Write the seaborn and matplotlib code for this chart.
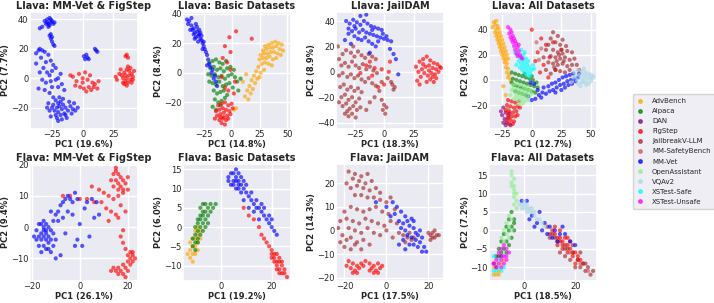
import numpy as np
import pandas as pd
import matplotlib.pyplot as plt
import seaborn as sns
from matplotlib.lines import Line2D

# cores de cada dataset (ordem da legenda)
DATASETS = ['AdvBench', 'Alpaca', 'DAN', 'FigStep', 'JailbreakV-LLM', 'MM-SafetyBench',
            'MM-Vet', 'OpenAssistant', 'VQAv2', 'XSTest-Safe', 'XSTest-Unsafe']
COLORS = ['orange', 'green', 'purple', 'red', 'brown', 'indianred',
          'blue', 'lightgreen', 'lightblue', 'cyan', 'magenta']

# ---------------- Llava: MM-Vet & FigStep ----------------
L1_MMVET = [(-31, 39), (-29, 40), (-27, 41), (-26, 38), (-28, 37), (-30, 37), (-25, 39), (-27, 36), (-33, 35),
            (-24, 37), (-26, 40), (-29, 38), (-35, 34), (-28, 35), (-23, 38), (-27, 29), (-26, 27), (-25, 25),
            (-24, 23), (-23, 22), (-26, 30), (-25, 28), (-38, 17), (-35, 20), (-33, 19), (-31, 18), (-28, 16),
            (-34, 14), (-30, 11), (-26, 12), (-24, 9), (-32, 7), (-35, 4), (-29, 4), (-27, 2), (-25, 5), (-22, 7),
            (-33, -1), (-30, -3), (-26, -2), (-22, -1), (-20, 0), (-36, -7), (-31, -8), (-25, -6), (-20, -6),
            (-17, -4), (-27, -10), (-15, -8), (-38, 10), (-36, 19), (-18, 3), (-22, -15), (-20, -17), (-18, -16),
            (-24, -18), (-21, -20), (-19, -19), (-17, -21), (-23, -22), (-25, -20), (-27, -22), (-20, -23),
            (-16, -18), (-14, -20), (-12, -22), (-10, -19), (-8, -21), (-15, -24), (-18, -25), (-22, -25),
            (-26, -26), (-13, -27), (-9, -24), (-6, -22), (-4, -20), (-20, -29), (-17, -28), (-24, -13),
            (-19, -13), (-28, -17), (-11, -16), (-7, -17), (-16, -14), (-21, -27), (-14, -25), (-29, -20),
            (1, 15), (2, 13), (4, 14), (5, 13), (3, 16), (11, 19), (12, 18), (10, 20)]
L1_FIGSTEP = [(32, 2), (34, 4), (36, 6), (38, 5), (40, 3), (41, 1), (39, -1), (37, -3), (35, -2), (33, 0), (30, 3),
              (28, -1), (36, 0), (38, 2), (34, -4), (40, -3), (42, 5), (31, 6), (37, 8), (35, 2), (39, 7), (33, -3),
              (36, -5), (41, -1), (27, 1), (35, 15), (36, 16), (37, 14), (-8, 1), (-5, -2), (-3, 3), (0, 0), (2, 4),
              (4, -1), (6, 2), (8, -3), (-2, -6), (1, -7), (5, -6), (10, -4), (12, -7), (-6, -5), (3, -9), (7, -8),
              (0, -3), (-10, 2), (9, -6), (13, -2)]

# ---------------- Llava: Basic Datasets ----------------
L2_ADVBENCH = [(30, 18), (33, 19), (36, 20), (39, 21), (42, 20), (45, 19), (28, 15), (31, 16), (34, 17), (37, 17),
               (40, 18), (43, 16), (46, 15), (26, 12), (29, 13), (32, 13), (35, 14), (38, 14), (41, 13), (44, 12),
               (25, 9), (28, 10), (31, 10), (34, 11), (37, 9), (40, 10), (27, 6), (30, 7), (33, 6), (36, 5), (24, 4),
               (22, 1), (26, 0), (20, -2), (23, -4), (18, -5), (21, -7), (16, -9), (19, -11), (14, -12), (17, -14),
               (12, -16), (15, -18), (25, -3), (29, 2), (2, -25), (4, -24), (10, -6), (13, -1)]
L2_ALPACA = [(-20, 7), (-17, 8), (-14, 9), (-11, 7), (-8, 6), (-5, 8), (-19, 3), (-16, 4), (-13, 2), (-10, 3), (-7, 1),
             (-4, 3), (-1, 4), (2, 2), (-18, -2), (-15, -1), (-12, -3), (-9, -2), (-6, -4), (-3, -2), (0, -1), (3, -3),
             (-20, -6), (-17, -7), (-14, -8), (-11, -6), (-8, -9), (-5, -8), (-2, -7), (1, -10), (5, -6), (8, -4),
             (-16, -12), (-13, -14), (-10, -13), (-7, -12), (-4, -15), (-15, -18), (-12, -20), (-9, -19),
             (-17, -23), (-14, -25), (-6, -17), (-21, -1), (-10, -22), (6, -12)]
L2_FIGSTEP = [(-12, -22), (-9, -21), (-6, -20), (-3, -22), (0, -21), (-14, -26), (-11, -25), (-8, -24), (-5, -25),
              (-2, -26), (1, -24), (-13, -29), (-10, -28), (-7, -27), (-4, -29), (-1, -28), (-11, -32), (-8, -31),
              (-5, -32), (-9, -34), (-6, -35), (-15, -31), (-3, -31), (-7, -30), (-10, -30), (4, 28), (18, 23),
              (-2, 24), (-6, 18), (-1, 14), (-8, 10), (-4, 7), (-1, 2), (-9, -3), (-6, -10), (2, -14), (-3, -12),
              (3, -6)]
L2_MMVET = [(-40, 36), (-38, 35), (-39, 33), (-36, 32), (-34, 30), (-37, 29), (-33, 27), (-31, 28), (-30, 25),
            (-32, 24), (-29, 26), (-28, 23), (-27, 22), (-30, 21), (-26, 20), (-25, 18), (-34, 26), (-35, 29),
            (-31, 31), (-29, 29), (-33, 23), (-28, 27), (-27, 25), (-24, 16), (-23, 14), (-25, 21), (-22, 12),
            (-21, 9), (-20, 6), (-19, 4), (-22, 5), (-17, 2), (-15, -2), (-14, -6), (-13, -9), (-16, -4), (-18, 0),
            (-36, 37), (-32, 33), (-26, 16)]

# ---------------- Llava: JailDAM ----------------
L3_FIGSTEP = [(30, 8), (33, 10), (36, 12), (39, 9), (42, 7), (45, 6), (47, 4), (44, 2), (41, 3), (38, 5), (35, 4),
              (32, 2), (29, 0), (34, -1), (37, -3), (40, -1), (43, -2), (46, 0), (39, -6), (36, -8), (31, -4),
              (28, -7), (41, -4), (44, -5), (48, 3), (27, 4), (33, 6), (38, 1), (42, -8), (30, -10), (-15, 5),
              (-8, 3), (-2, 2), (4, 0), (-10, -3), (-20, -1), (0, -10), (-5, -12), (5, 8), (-12, 8)]
L3_JAILBREAK = [(-38, 10), (-35, 14), (-32, 17), (-28, 15), (-25, 12), (-22, 16), (-19, 13), (-16, 11), (-13, 14),
                (-10, 12), (-7, 10), (-36, 5), (-33, 7), (-30, 4), (-27, 8), (-24, 5), (-21, 3), (-18, 6), (-15, 2),
                (-12, 4), (-9, 1), (-6, -1), (-38, -3), (-35, -1), (-31, -4), (-28, -2), (-25, -5), (-22, -3),
                (-19, -6), (-16, -8), (-13, -5), (-10, -9), (-7, -11), (-37, -12), (-34, -10), (-31, -14),
                (-28, -12), (-25, -15), (-22, -13), (-19, -16), (-36, -20), (-33, -18), (-30, -22), (-27, -20),
                (-24, -24), (-21, -21), (-35, -27), (-32, -25), (-29, -29), (-26, -27), (-23, -30), (-33, -33),
                (-30, -35), (-27, -33), (-24, -36), (-20, -28), (-38, -24), (-31, -31), (-2, -22), (0, -26),
                (-1, -30), (1, -33), (2, -28), (7, -10), (9, -12), (8, -14), (6, -8), (-4, -15), (-8, -20),
                (-12, -24), (-15, -30), (3, -5), (-2, -8), (-39, 20), (-26, 20)]
L3_MMVET = [(-32, 40), (-29, 38), (-26, 41), (-23, 39), (-20, 37), (-17, 40), (-14, 38), (-11, 36), (-8, 35),
            (-5, 34), (-2, 33), (-30, 34), (-27, 32), (-24, 34), (-21, 31), (-18, 33), (-15, 31), (-12, 30),
            (-9, 29), (-6, 28), (-3, 27), (0, 26), (3, 25), (6, 24), (-25, 28), (-22, 26), (-19, 25), (-16, 27),
            (-13, 24), (-10, 22), (-7, 20), (-20, 44), (-15, 45), (-30, 30), (-33, 25), (-28, 22), (-1, 30),
            (2, 28), (5, 18), (8, 14), (-12, 15), (10, 10), (12, -2), (-25, 36), (-10, 33), (-5, 24)]

# ---------------- Llava: All Datasets ----------------
L4_ADVBENCH = [(-32, 46), (-30, 47), (-31, 44), (-29, 43), (-33, 42), (-30, 40), (-28, 41), (-31, 38), (-29, 37),
               (-27, 38), (-30, 35), (-28, 34), (-26, 35), (-29, 32), (-27, 31), (-25, 32), (-28, 29), (-26, 28),
               (-24, 29), (-27, 26), (-25, 25), (-23, 26), (-26, 23), (-24, 22), (-22, 23), (-25, 20), (-23, 19),
               (-21, 20), (-24, 17), (-22, 16), (-20, 17), (-23, 14), (-21, 13), (-22, 10), (-20, 9), (-21, 6),
               (-19, 4), (-20, 2), (-18, 0), (-24, -5), (-22, -12), (-20, -25), (-19, -30)]
L4_ALPACA = [(-17, 6), (-14, 5), (-11, 4), (-8, 3), (-5, 2), (-2, 1), (1, 0), (4, -2), (-16, 1), (-13, 0), (-10, -1),
             (-7, -2), (-4, -3), (-1, -4), (2, -5), (-15, -4), (-12, -5), (-9, -6), (-6, -7), (-3, -8), (0, -9),
             (3, -10), (-14, -9), (-11, -10), (-8, -11), (-5, -12), (-17, -2), (-6, 5), (0, 3), (5, -6)]
L4_DAN = [(-24, -22), (-22, -26), (-25, -28), (-23, -31), (-21, -34), (-24, -34), (-20, -30), (-26, -25),
          (-22, -36), (-18, -36), (-19, -27)]
L4_FIGSTEP = [(-20, -16), (-17, -17), (-14, -18), (-11, -17), (-21, -20), (-18, -21), (-15, -22), (-12, -21),
              (-22, -24), (-19, -25), (-16, -26), (-13, -25), (-20, -28), (-17, -29), (-14, -29), (-21, -32),
              (-18, -32), (-15, -33), (-19, -35), (-16, -35), (-10, -22), (-12, -28), (0, 40), (8, 33), (12, 28),
              (5, 22), (15, 18), (10, 12), (20, 8), (14, 2), (25, 24), (18, 30), (7, 6), (3, 15)]
L4_JAILBREAK = [(18, 38), (22, 35), (16, 33), (26, 32), (20, 30), (24, 28), (14, 28), (29, 27), (12, 24), (18, 24),
                (22, 22), (26, 21), (30, 23), (34, 22), (16, 19), (20, 18), (24, 17), (28, 18), (32, 16), (36, 17),
                (14, 14), (18, 13), (22, 12), (26, 13), (30, 11), (34, 12), (20, 8), (24, 7), (28, 6), (32, 8),
                (38, 12), (40, 8), (10, 18), (12, 8), (16, 5), (25, 24), (21, 15), (27, 15), (23, 20), (19, 10)]
L4_MMSAFETY = [(8, 25), (6, 16), (-20, -22), (-14, -24), (4, 30)]
L4_MMVET = [(3, -15), (6, -12), (9, -10), (12, -11), (15, -9), (18, -8), (21, -6), (24, -4), (27, -3), (30, -1),
            (33, 0), (36, 1), (39, 2), (14, -5), (17, -3), (20, -2), (23, 0), (26, 2), (29, 3), (32, 4), (35, 5),
            (10, -6), (8, -14), (20, -10), (25, -8), (28, -6), (31, -4), (34, -3), (37, -1), (40, 5), (-3, -13),
            (0, -16), (5, -8), (-1, -2), (2, -3)]
L4_OPENASSIST = [(-16, -4), (-13, -3), (-10, -4), (-7, -5), (-4, -6), (-15, -7), (-12, -7), (-9, -8), (-6, -8),
                 (-3, -9), (-14, -10), (-11, -10), (-8, -11), (-5, -11), (-2, -12), (-13, -13), (-10, -13),
                 (-7, -14), (-4, -14), (-12, -16), (-9, -16), (-6, -17), (-3, -16), (-11, -19), (-8, -19),
                 (-17, -8), (-18, -12), (-15, -15), (-1, -8), (0, -11)]
L4_VQAV2 = [(36, 6), (39, 8), (42, 7), (45, 6), (48, 5), (50, 4), (37, 3), (40, 4), (43, 4), (46, 3), (49, 2),
            (51, 1), (38, 0), (41, 1), (44, 1), (47, 0), (50, -1), (39, -3), (42, -2), (45, -2), (48, -3), (35, 2),
            (44, 9), (41, -5), (46, -4), (33, -2), (52, 3), (43, -1)]
L4_XSAFE = [(-14, 22), (-12, 20), (-10, 18), (-8, 16), (-6, 14), (-4, 12), (-2, 10), (0, 8), (-11, 15), (-9, 13),
            (-7, 11), (-5, 9), (-3, 7), (-1, 5), (-13, 12), (-10, 10), (-8, 8), (-6, 6), (-4, 4), (-2, 3), (-7, 20),
            (-5, 17), (-3, 15), (1, 12), (-9, 24), (-6, 22), (2, 9)]
L4_XUNSAFE = [(-20, 42), (-18, 40), (-19, 37), (-17, 38), (-16, 35), (-18, 34), (-15, 33), (-14, 31), (-16, 30),
              (-13, 29), (-15, 27), (-12, 26), (-14, 24), (-11, 23), (-13, 21), (-10, 20), (-9, 18), (-12, 19),
              (-8, 17), (-17, 32), (-11, 28)]

# ---------------- Flava: MM-Vet & FigStep ----------------
F1_MMVET = [(-18, -1), (-17, 1), (-16, -2), (-15, 0), (-14, -1), (-13, -3), (-17, -3), (-16, -4), (-15, -3),
            (-14, -4), (-13, -5), (-12, -4), (-16, 1), (-15, 2), (-14, 1), (-13, 0), (-12, -1), (-11, -2),
            (-18, -4), (-17, -6), (-15, -6), (-13, -7), (-11, -6), (-10, -4), (-19, -3), (-16, -8), (-12, -8),
            (-14, -7), (-15, -1), (-14, -2), (-11, 2), (-10, 4), (-9, 5), (-8, 7), (-7, 8), (-6, 9), (-5, 10),
            (-4, 9), (-3, 8), (-2, 11), (-1, 9), (-12, 5), (-9, 2), (-7, 3), (-5, 5), (-3, 4), (0, 1), (-1, -4),
            (1, -6), (-8, -9), (-6, -2), (3, 8), (5, 9), (7, 8), (8, 4), (2, 6), (6, 3), (-2, -6), (-10, -10),
            (4, -3)]
F1_FIGSTEP = [(14, 17), (15, 18), (16, 17), (17, 16), (18, 15), (15, 15), (16, 14), (17, 13), (19, 14), (14, 13),
              (16, 12), (18, 12), (13, 15), (20, 16), (15, 19), (5, 13), (8, 12), (10, 11), (12, 10), (14, 9),
              (16, 10), (18, 11), (20, 12), (-7, 10), (-4, 10), (0, 9), (3, 9), (6, 8), (9, 8), (11, 6), (13, 5),
              (15, 4), (17, 7), (19, 5), (12, 2), (16, 3), (18, -1), (17, -3), (18, -5), (19, -7), (20, -9),
              (21, -8), (22, -9), (21, -10), (22, -11), (23, -10), (20, -11), (21, -12), (14, -13), (15, -14),
              (16, -13), (17, -14), (18, -15), (19, -13), (20, -14), (13, -14), (16, -15), (18, -12), (22, -8),
              (19, -16)]

# ---------------- Flava: Basic Datasets ----------------
F2_ADVBENCH = [(-12, -8), (-12, -6), (-11, -7), (-11, -5), (-10, -7), (-10, -5), (-11, -3), (-10, -3), (-9, -4),
               (-9, -2), (-10, -1), (-9, 0), (-8, -1), (-12, -4), (-11, -9), (-9, -6), (-8, -3), (-13, -7)]
F2_ALPACA = [(-11, -5), (-10, -4), (-10, -2), (-9, -3), (-9, -1), (-10, 0), (-9, 1), (-8, 0), (-8, 2), (-7, 1),
             (-8, 3), (-7, 3), (-6, 2), (-7, 4), (-6, 4), (-5, 5), (-6, 6), (-4, 6), (-5, 3), (-6, 0), (-7, -1),
             (-8, -2), (-9, -4), (-11, -3), (-10, -6), (-4, 4), (-3, 5), (-8, 5), (-5, 1), (-7, 6), (-2, 6), (-9, 2)]
F2_FIGSTEP = [(9, 5), (11, 3), (13, 2), (15, 0), (16, -2), (17, -3), (18, -4), (19, -5), (20, -6), (21, -7),
              (22, -7), (21, -8), (22, -9), (23, -9), (22, -10), (23, -11), (24, -10), (24, -12), (25, -12),
              (20, -8), (21, -9), (23, -8), (25, -11), (22, -11), (24, -9), (20, -7), (26, -13), (23, -12)]
F2_MMVET = [(3, 13), (4, 14), (5, 12), (6, 13), (7, 12), (8, 11), (5, 11), (6, 10), (7, 14), (8, 13), (9, 12),
            (4, 11), (6, 15), (5, 14), (7, 10), (9, 10), (10, 11), (3, 12), (8, 9), (6, 12), (7, 11), (10, 9),
            (11, 8), (12, 7), (13, 6), (14, 5), (15, 5), (16, 4), (17, 3), (18, 2), (19, 1), (20, 0), (21, -1),
            (22, -2), (12, 9), (14, 7), (16, 6), (17, 5), (19, 3), (20, 2), (13, 4), (11, 5), (9, 7), (15, 2)]

# ---------------- Flava: JailDAM ----------------
F3_FIGSTEP = [(-18, -13), (-16, -14), (-14, -15), (-12, -14), (-17, -16), (-15, -17), (-13, -16), (-11, -15),
              (-16, -18), (-14, -18), (-10, -13), (-19, -15), (-8, -14), (-6, -15), (-4, -14), (-7, -16),
              (-5, -17), (-3, -16), (-6, -18), (-4, -18), (-2, -15), (-8, -17)]
F3_JAILBREAK = [(-18, 25), (-15, 24), (-12, 23), (-9, 24), (-16, 22), (-13, 21), (-10, 20), (-7, 21), (-14, 19),
                (-11, 18), (-8, 17), (-5, 18), (-3, 16), (-17, 18), (-12, 15), (-9, 14), (-6, 14), (-3, 13),
                (0, 12), (2, 14), (-15, 15), (-19, 20), (-20, 8), (-17, 10), (-14, 9), (-11, 8), (-8, 9), (-5, 10),
                (-2, 8), (1, 7), (4, 9), (-22, 4), (-19, 5), (-16, 4), (-13, 3), (-10, 5), (-7, 4), (-4, 3),
                (-1, 2), (2, 4), (5, 3), (-23, 1), (-18, 1), (-15, 0), (-12, -1), (-9, 1), (-6, -1), (-3, -2),
                (0, 0), (-21, -2), (-19, -4), (-17, -3), (-14, -5), (-11, -4), (-8, -6), (-20, -7), (-17, -8),
                (-15, -6), (-12, -8), (-22, -5), (3, -3), (6, -1), (8, -2), (10, -3), (12, -4), (9, -5), (11, -1),
                (13, -3), (20, -1), (21, -2), (22, -1), (23, -3), (24, -2), (22, -3), (21, -4), (23, 0), (25, -2)]
F3_MMVET = [(3, 12), (5, 10), (4, 7), (7, 8), (9, 6), (6, 4), (8, 3), (10, 4), (12, 5), (7, 1), (9, 0), (11, 2),
            (13, 1), (14, -1), (10, -2), (12, -3), (14, -4), (15, -2), (16, -5), (13, -6), (15, -7), (11, -6),
            (17, -3), (18, -7), (19, -9), (8, -4), (6, -6), (9, -8), (2, 6), (0, 10), (-5, 12), (16, 0), (13, 4),
            (17, -9)]

# ---------------- Flava: All Datasets ----------------
F4_ADVBENCH = [(-11, -12), (-10, -11), (-12, -10), (-9, -9), (-11, -9), (-10, -12), (-12, -12), (-8, -8)]
F4_ALPACA = [(-5, 5), (-6, 3), (-4, 3), (-7, 1), (-5, 1), (-8, -1), (-6, 0), (-4, 0), (-9, -3), (-7, -3), (-5, -2),
             (-10, -5), (-8, -5), (-6, -4), (-9, -6), (-7, -6), (-11, -7), (-4, 2)]
F4_DAN = [(-12, -9), (-11, -10), (-9, -7), (-10, -7)]
F4_FIGSTEP = [(11, 0), (12, -1), (13, -2), (14, -2), (15, -3), (16, -4), (17, -4), (18, -5), (19, -6), (20, -6),
              (21, -7), (22, -8), (12, 1), (14, 0), (16, -2), (18, -3), (13, -4), (15, -5), (17, -6), (19, -7),
              (21, -8), (20, -9), (10, -1), (23, -9), (14, -3), (17, -2)]
F4_JAILBREAK = [(9, 1), (11, -1), (13, -3), (15, -4), (17, -5), (19, -6), (21, -8), (23, -9), (25, -10), (27, -11),
                (14, -6), (16, -7), (18, -8), (20, -10), (22, -10), (24, -9), (26, -12), (10, -2), (12, -2),
                (19, -4), (22, -6), (24, -11), (16, -5)]
F4_MMSAFETY = [(22, -9), (25, -11), (18, -6)]
F4_MMVET = [(-1, 8), (1, 8), (3, 4), (5, 2), (6, 5), (8, 2), (10, 1), (12, 0), (14, -1), (16, -1), (9, -1), (11, -2),
            (13, -3), (18, -3), (20, -4), (7, 0), (4, 1), (2, 3), (15, 1)]
F4_OPENASSIST = [(-5, 16), (-5, 15), (-4, 14), (-5, 13), (-4, 12), (-4, 11), (-4, 10), (-4, 9), (-3, 8), (-4, 7),
                 (-3, 6), (-5, 12), (-3, 10), (-6, 4), (-5, 3), (-7, 2), (-6, 1), (-5, 0), (-8, 0), (-7, -1),
                 (-6, -2), (-9, -2), (-8, -3)]
F4_VQAV2 = [(-1, 7), (0, 7), (1, 6), (2, 6), (0, 6), (1, 7), (-1, 6), (2, 5), (3, 5), (4, 4), (5, 3), (3, 6), (1, 5),
            (6, 3), (7, 2), (8, 1), (4, 5), (-2, 7), (0, 8)]
F4_XSAFE = [(-10, -10), (-11, -11), (-9, -11), (-12, -11), (-8, -10), (-10, -8), (-12, -7)]
F4_XUNSAFE = [(-8, -4), (-9, -5), (-7, -5), (-10, -6), (-8, -7), (-6, -6), (-11, -8), (-9, -8), (-7, -8),
              (-10, -9), (-8, -9), (-11, -10), (-9, -10), (-12, -9), (-7, -7)]


def montar(series):
    # junta as séries (nome, pontos) num DataFrame
    linhas = []
    for nome, pontos in series:
        for x, y in pontos:
            linhas.append({'x': x, 'y': y, 'dataset': nome})
    return pd.DataFrame(linhas)


paineis = [
    ('Llava: MM-Vet & FigStep', 'PC1 (19.6%)', 'PC2 (7.7%)',
     [('FigStep', L1_FIGSTEP), ('MM-Vet', L1_MMVET)],
     (-43, 45), (-34.5, 45), [-25, 0, 25], [-20, 0, 20, 40]),
    ('Llava: Basic Datasets', 'PC1 (14.8%)', 'PC2 (8.4%)',
     [('AdvBench', L2_ADVBENCH), ('Alpaca', L2_ALPACA), ('FigStep', L2_FIGSTEP), ('MM-Vet', L2_MMVET)],
     (-43.5, 53), (-38, 41), [-25, 0, 25, 50], [-20, 0, 20, 40]),
    ('Llava: JailDAM', 'PC1 (18.3%)', 'PC2 (8.9%)',
     [('FigStep', L3_FIGSTEP), ('JailbreakV-LLM', L3_JAILBREAK), ('MM-Vet', L3_MMVET)],
     (-40.5, 50.5), (-45, 47), [-25, 0, 25], [-40, -20, 0, 20, 40]),
    ('Llava: All Datasets', 'PC1 (12.7%)', 'PC2 (9.3%)',
     [('AdvBench', L4_ADVBENCH), ('Alpaca', L4_ALPACA), ('DAN', L4_DAN), ('FigStep', L4_FIGSTEP),
      ('JailbreakV-LLM', L4_JAILBREAK), ('MM-SafetyBench', L4_MMSAFETY), ('MM-Vet', L4_MMVET),
      ('OpenAssistant', L4_OPENASSIST), ('VQAv2', L4_VQAV2), ('XSTest-Safe', L4_XSAFE),
      ('XSTest-Unsafe', L4_XUNSAFE)],
     (-36, 55), (-39, 54), [-25, 0, 25, 50], [-20, 0, 20, 40]),
    ('Flava: MM-Vet & FigStep', 'PC1 (26.1%)', 'PC2 (9.4%)',
     [('FigStep', F1_FIGSTEP), ('MM-Vet', F1_MMVET)],
     (-20.7, 24.1), (-17.2, 20.2), [-20, 0, 20], [-10, 0, 10, 20]),
    ('Flava: Basic Datasets', 'PC1 (19.2%)', 'PC2 (6.0%)',
     [('AdvBench', F2_ADVBENCH), ('Alpaca', F2_ALPACA), ('FigStep', F2_FIGSTEP), ('MM-Vet', F2_MMVET)],
     (-14.8, 27.5), (-14, 16.4), [0, 20], [-10, -5, 0, 5, 10, 15]),
    ('Flava: JailDAM', 'PC1 (17.5%)', 'PC2 (14.3%)',
     [('FigStep', F3_FIGSTEP), ('JailbreakV-LLM', F3_JAILBREAK), ('MM-Vet', F3_MMVET)],
     (-24, 27.4), (-21.4, 28.2), [-20, 0, 20], [-20, -10, 0, 10, 20]),
    ('Flava: All Datasets', 'PC1 (18.5%)', 'PC2 (7.2%)',
     [('AdvBench', F4_ADVBENCH), ('Alpaca', F4_ALPACA), ('DAN', F4_DAN), ('FigStep', F4_FIGSTEP),
      ('JailbreakV-LLM', F4_JAILBREAK), ('MM-SafetyBench', F4_MMSAFETY), ('MM-Vet', F4_MMVET),
      ('OpenAssistant', F4_OPENASSIST), ('VQAv2', F4_VQAV2), ('XSTest-Safe', F4_XSAFE),
      ('XSTest-Unsafe', F4_XUNSAFE)],
     (-13.8, 28.5), (-13.7, 18), [0, 20], [-10, -5, 0, 5, 10, 15]),
]

sns.set_theme(style='darkgrid')  # fundo cinza com grade branca
paleta = dict(zip(DATASETS, COLORS))

fig, axes = plt.subplots(2, 4, figsize=(7.14, 3.03), dpi=100)
fig.subplots_adjust(left=0.042, right=0.836, top=0.96, bottom=0.073, wspace=0.42, hspace=0.3)

for ax, (titulo, xl, yl, series, xlim, ylim, xt, yt) in zip(axes.flat, paineis):
    df = montar(series)
    sns.scatterplot(data=df, x='x', y='y', hue='dataset', palette=paleta, s=9, alpha=0.65,
                    linewidth=0, legend=False, ax=ax)
    ax.set_title(titulo, fontsize=7, fontweight='bold', pad=2)
    ax.set_xlabel(xl, fontsize=6, fontweight='bold', labelpad=0.5)
    ax.set_ylabel(yl, fontsize=6, fontweight='bold', labelpad=0.5)
    ax.set_xlim(xlim)
    ax.set_ylim(ylim)
    ax.set_xticks(xt)
    ax.set_yticks(yt)
    ax.tick_params(labelsize=6, pad=1, length=0)

# legenda da figura com todos os datasets
handles = [Line2D([], [], marker='o', linestyle='', color=c, markersize=2.5, alpha=0.7) for c in COLORS]
fig.legend(handles, DATASETS, loc='center left', bbox_to_anchor=(0.881, 0.5), fontsize=5,
           labelspacing=0.58, handlelength=1, handletextpad=1.2, borderpad=0.6,
           frameon=True, facecolor='#EAEAF2')

fig.savefig('out.png', dpi=100)
